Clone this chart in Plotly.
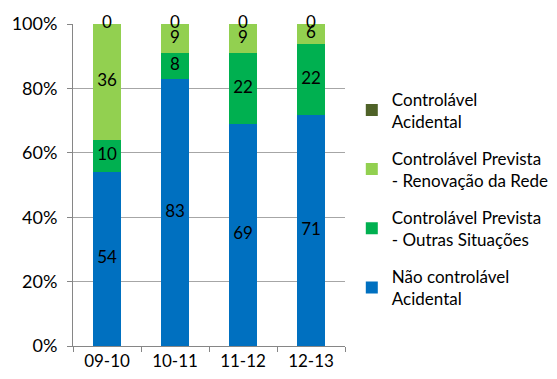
import plotly.graph_objects as go

categories = ["09-10", "10-11", "11-12", "12-13"]
nao_controlavel = [54, 83, 69, 71]
outras_situacoes = [10, 8, 22, 22]
renovacao_rede = [36, 9, 9, 6]
controlavel_acidental = [0, 0, 0, 0]

series = [
    ("Não controlável<br>Acidental", nao_controlavel, "#0070C0"),
    ("Controlável Prevista<br>- Outras Situações", outras_situacoes, "#00B050"),
    ("Controlável Prevista<br>- Renovação da Rede", renovacao_rede, "#92D050"),
    ("Controlável<br>Acidental", controlavel_acidental, "#4F6228"),
]

totals = [sum(s[1][i] for s in series) for i in range(len(categories))]
FONT = "Lato, 'Open Sans', sans-serif"
FS = 17

fig = go.Figure()
base = [0.0] * len(categories)
label_x, label_y, label_t = [], [], []
for i, (name, vals, color) in enumerate(series):
    pct = [v / t * 100 for v, t in zip(vals, totals)]
    fig.add_trace(go.Bar(
        x=categories, y=pct, name=name, marker=dict(color=color, line=dict(width=0)),
        legendgroup=str(i), legendrank=10 - i, hoverinfo="skip",
    ))
    for j in range(len(categories)):
        label_x.append(categories[j])
        label_y.append(base[j] + pct[j] / 2)
        label_t.append(str(vals[j]))
        base[j] += pct[j]

fig.add_trace(go.Scatter(
    x=label_x, y=label_y, text=label_t, mode="text", showlegend=False,
    textfont=dict(family=FONT, size=FS, color="black"), hoverinfo="skip",
    cliponaxis=False,
))

fig.update_layout(
    barmode="stack", bargap=0.59,
    width=557, height=379,
    margin=dict(l=65, r=220, t=16, b=41, autoexpand=False),
    paper_bgcolor="white", plot_bgcolor="white",
    font=dict(family=FONT, size=FS, color="black"),
    legend=dict(
        x=1.025, y=0.822, xanchor="left", yanchor="top",
        traceorder="grouped", tracegroupgap=12,
        font=dict(family=FONT, size=17, color="black"),
        itemwidth=30,
    ),
    xaxis=dict(
        type="category", automargin=False,
        showline=True, linecolor="#868686", linewidth=1,
        ticks="outside", tickson="boundaries", ticklen=5, tickcolor="#868686",
        showgrid=False,
    ),
    yaxis=dict(
        automargin=False,
        range=[0, 100], tickvals=[0, 20, 40, 60, 80, 100],
        ticktext=["0%", "20%", "40%", "60%", "80%", "100%"],
        tickfont=dict(family=FONT, size=18, color="black"),
        ticklabelstandoff=6,
        showline=True, linecolor="#868686", linewidth=1,
        ticks="outside", ticklen=5, tickcolor="#868686",
        showgrid=True, gridcolor="#A6A6A6", gridwidth=1,
        zeroline=False,
    ),
)

fig.write_html("out.html")
